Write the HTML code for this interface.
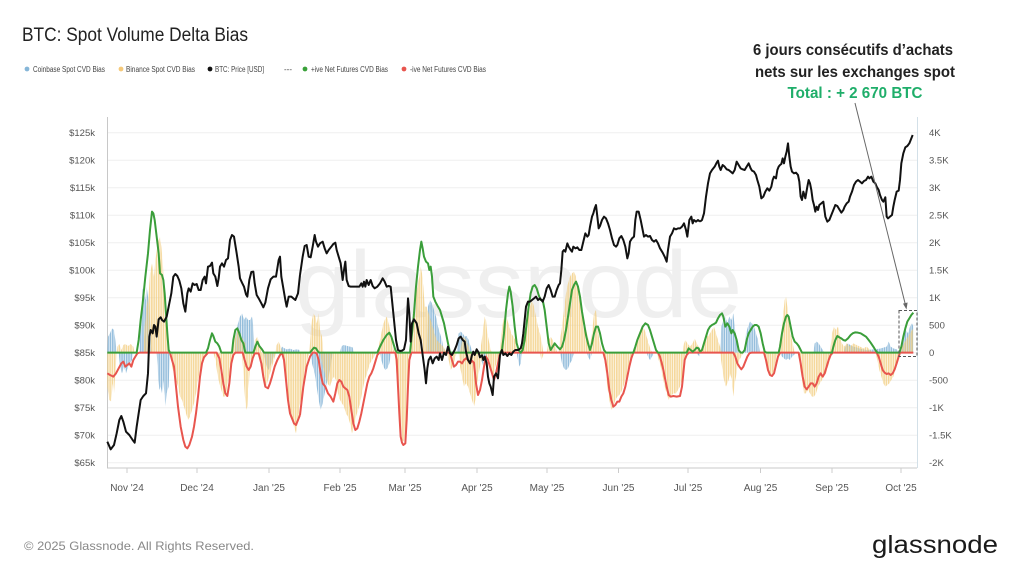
<!DOCTYPE html>
<html><head><meta charset="utf-8"><style>
html,body{margin:0;padding:0;background:#fff;}
svg{display:block;}
text{font-family:"Liberation Sans",sans-serif;}
</style></head><body>
<svg width="1024" height="576" viewBox="0 0 1024 576" xmlns="http://www.w3.org/2000/svg">
<defs>
<pattern id="po" patternUnits="userSpaceOnUse" width="6.96" height="20"><rect x="0" y="0" width="5" height="20" fill="#f2cb7a"/></pattern>
<pattern id="pb" patternUnits="userSpaceOnUse" width="6.96" height="20"><rect x="1" y="0" width="5" height="20" fill="#82b3d6"/></pattern>
</defs>
<rect width="1024" height="576" fill="#fff"/>

<!-- Title -->
<text x="22" y="41" font-size="19" fill="#222" textLength="226" lengthAdjust="spacingAndGlyphs">BTC: Spot Volume Delta Bias</text>

<!-- Legend -->
<g font-size="8" fill="#444">
<circle cx="27" cy="69" r="2.4" fill="#86b6d8"/><text x="33" y="72" textLength="72" lengthAdjust="spacingAndGlyphs">Coinbase Spot CVD Bias</text>
<circle cx="121" cy="69" r="2.4" fill="#f5c97a"/><text x="126" y="72" textLength="69" lengthAdjust="spacingAndGlyphs">Binance Spot CVD Bias</text>
<circle cx="210" cy="69" r="2.4" fill="#111"/><text x="215" y="72" textLength="49" lengthAdjust="spacingAndGlyphs">BTC: Price [USD]</text>
<text x="284" y="72">---</text>
<circle cx="305" cy="69" r="2.4" fill="#3aa13a"/><text x="311" y="72" textLength="77" lengthAdjust="spacingAndGlyphs">+ive Net Futures CVD Bias</text>
<circle cx="404" cy="69" r="2.4" fill="#e8554e"/><text x="410" y="72" textLength="76" lengthAdjust="spacingAndGlyphs">-ive Net Futures CVD Bias</text>
</g>

<!-- Annotation -->
<g font-weight="bold" font-size="16" text-anchor="middle">
<text x="853" y="55" fill="#222" textLength="200" lengthAdjust="spacingAndGlyphs">6 jours consécutifs d’achats</text>
<text x="855" y="77" fill="#222" textLength="200" lengthAdjust="spacingAndGlyphs">nets sur les exchanges spot</text>
<text x="855" y="98" fill="#1fae6a" textLength="135" lengthAdjust="spacingAndGlyphs">Total : + 2 670 BTC</text>
</g>

<!-- Gridlines -->
<g stroke="#efefef" stroke-width="1">
<line x1="107" x2="917" y1="132.7" y2="132.7"/><line x1="107" x2="917" y1="160.2" y2="160.2"/>
<line x1="107" x2="917" y1="187.7" y2="187.7"/><line x1="107" x2="917" y1="215.2" y2="215.2"/>
<line x1="107" x2="917" y1="242.7" y2="242.7"/><line x1="107" x2="917" y1="270.2" y2="270.2"/>
<line x1="107" x2="917" y1="297.7" y2="297.7"/><line x1="107" x2="917" y1="325.2" y2="325.2"/>
<line x1="107" x2="917" y1="352.7" y2="352.7"/><line x1="107" x2="917" y1="380.2" y2="380.2"/>
<line x1="107" x2="917" y1="407.7" y2="407.7"/><line x1="107" x2="917" y1="435.2" y2="435.2"/>
<line x1="107" x2="917" y1="462.7" y2="462.7"/>
</g>

<!-- Watermark -->
<text x="295" y="317" font-size="95" fill="#efefef" textLength="447" lengthAdjust="spacingAndGlyphs">glassnode</text>

<!-- Axes -->
<line x1="107.5" y1="117" x2="107.5" y2="468" stroke="#c8c8c8"/>
<line x1="107" y1="468" x2="917" y2="468" stroke="#c8c8c8"/>
<line x1="917.5" y1="117" x2="917.5" y2="468" stroke="#d3e0e8"/>
<g stroke="#ccc">
<line x1="127" x2="127" y1="468" y2="473"/><line x1="197" x2="197" y1="468" y2="473"/>
<line x1="269" x2="269" y1="468" y2="473"/><line x1="340" x2="340" y1="468" y2="473"/>
<line x1="405" x2="405" y1="468" y2="473"/><line x1="477" x2="477" y1="468" y2="473"/>
<line x1="547" x2="547" y1="468" y2="473"/><line x1="618.5" x2="618.5" y1="468" y2="473"/>
<line x1="688" x2="688" y1="468" y2="473"/><line x1="760.5" x2="760.5" y1="468" y2="473"/>
<line x1="832" x2="832" y1="468" y2="473"/><line x1="901" x2="901" y1="468" y2="473"/>
</g>

<!-- Left axis labels -->
<g font-size="9.5" fill="#555" text-anchor="end">
<text x="95" y="136">$125k</text><text x="95" y="163.5">$120k</text><text x="95" y="191">$115k</text>
<text x="95" y="218.5">$110k</text><text x="95" y="246">$105k</text><text x="95" y="273.5">$100k</text>
<text x="95" y="301">$95k</text><text x="95" y="328.5">$90k</text><text x="95" y="356">$85k</text>
<text x="95" y="383.5">$80k</text><text x="95" y="411">$75k</text><text x="95" y="438.5">$70k</text>
<text x="95" y="466">$65k</text>
</g>
<!-- Right axis labels -->
<g font-size="9.5" fill="#555">
<text x="929" y="136">4K</text><text x="929" y="163.5">3.5K</text><text x="929" y="191">3K</text>
<text x="929" y="218.5">2.5K</text><text x="929" y="246">2K</text><text x="929" y="273.5">1.5K</text>
<text x="929" y="301">1K</text><text x="929" y="328.5">500</text><text x="929" y="356">0</text>
<text x="929" y="383.5">-500</text><text x="929" y="411">-1K</text><text x="929" y="438.5">-1.5K</text>
<text x="929" y="466">-2K</text>
</g>
<!-- X labels -->
<g font-size="10" fill="#555" text-anchor="middle">
<text x="127" y="491">Nov '24</text><text x="197" y="491">Dec '24</text><text x="269" y="491">Jan '25</text>
<text x="340" y="491">Feb '25</text><text x="405" y="491">Mar '25</text><text x="477" y="491">Apr '25</text>
<text x="547" y="491">May '25</text><text x="618.5" y="491">Jun '25</text><text x="688" y="491">Jul '25</text>
<text x="760.5" y="491">Aug '25</text><text x="832" y="491">Sep '25</text><text x="901" y="491">Oct '25</text>
</g>

<!-- Segment 1 -->
<g transform="translate(100,120) scale(0.333333)">
<path fill="url(#pb)" opacity="0.85" d="M22,698 L24,650 30,640 36,625 42,630 46,660 50,698Z M118,698 L120,620 124,560 128,505 132,520 136,540 140,500 144,530 148,560 152,640 156,698Z M404,698 L408,640 414,610 420,590 426,580 432,600 438,590 444,600 450,600 456,590 460,620 464,698Z M540,698 L546,680 552,684 560,688 570,686 580,690 590,688 600,690 600,698Z M56,698 L60,740 66,760 72,740 78,760 84,740 90,730 96,720 100,698Z M170,698 L174,760 178,810 182,800 186,820 190,780 196,860 200,820 206,800 210,698Z M490,698 L494,720 500,740 506,750 512,735 518,720 524,698Z"/>
<path fill="url(#po)" opacity="0.75" d="M50,698 L52,680 58,672 64,690 70,675 76,672 84,678 92,672 100,680 104,698Z M130,698 L134,620 140,560 146,520 150,460 156,430 162,470 166,420 172,380 176,360 180,350 184,380 188,420 192,500 196,560 200,620 206,698Z M396,698 L400,680 406,650 412,630 418,640 424,650 430,660 436,670 440,698Z M460,698 L466,660 472,650 478,670 484,698Z M526,698 L530,675 536,665 542,680 548,698Z M22,698 L22,800 28,840 34,845 38,790 42,820 46,760 50,698Z M212,698 L216,740 222,760 228,780 234,800 240,830 246,840 252,860 258,880 264,900 270,890 276,870 282,850 288,820 294,780 300,750 306,720 312,710 318,698Z M340,698 L346,720 352,760 358,790 364,810 370,830 376,830 382,800 388,760 394,720 400,698Z M426,698 L430,760 434,820 438,870 442,860 446,800 450,740 456,720 462,698Z M476,698 L480,720 486,760 492,790 498,800 504,780 510,760 516,740 522,720 528,698Z M548,698 L552,740 558,800 564,860 570,890 576,900 582,920 588,940 594,900 600,850 600,698Z"/>
<polyline fill="none" stroke="#e8554e" stroke-width="2" vector-effect="non-scaling-stroke" stroke-linejoin="round" points="22,760 30,765 40,770 48,760 56,745 64,730 70,725 76,740 82,735 88,730 94,740 100,720 106,710 112,700 118,698 210,698 216,720 222,740 228,800 234,860 242,920 250,960 256,980 262,985 268,975 276,950 282,920 288,880 294,830 300,770 306,730 312,712 318,705 324,698 350,698 358,715 364,750 370,790 376,820 382,828 388,790 394,730 400,705 406,698 428,698 434,720 440,740 446,750 452,740 458,715 464,700 476,700 484,730 490,770 496,800 504,805 510,790 516,770 524,740 532,720 540,705 546,698 552,720 558,780 564,840 570,880 576,895 582,910 588,915 594,900 600,885"/>
<polyline fill="none" stroke="#3a9e3a" stroke-width="2" vector-effect="non-scaling-stroke" stroke-linejoin="round" points="22,698 110,698 116,660 122,600 128,550 136,470 144,400 150,330 156,275 160,280 164,300 170,350 176,400 180,460 186,465 190,480 194,520 198,580 202,640 206,690 210,698 318,698 324,685 330,660 336,640 340,648 346,665 352,670 358,680 364,698 396,698 400,660 406,630 412,625 418,640 424,660 430,670 436,698 460,698 466,680 472,665 478,678 486,688 492,698 600,698"/>
<polyline fill="none" stroke="#111" stroke-width="2" vector-effect="non-scaling-stroke" stroke-linejoin="round" points="22,965 32,988 42,975 50,940 58,900 64,888 70,905 78,935 88,945 98,960 104,968 110,920 116,880 122,840 130,828 138,820 144,760 148,650 152,630 158,640 162,615 166,620 170,650 176,598 182,592 186,600 192,605 200,590 206,560 214,520 220,470 226,462 232,468 238,482 244,505 250,550 256,575 262,520 266,505 272,515 278,490 284,495 290,492 296,510 302,510 308,480 314,470 318,490 324,440 330,438 336,428 340,460 346,470 352,498 356,475 360,440 366,430 372,440 378,420 384,415 390,360 396,345 402,350 410,400 416,440 420,475 426,488 432,500 438,523 442,530 448,480 454,456 460,455 464,490 470,525 476,535 484,550 490,562 496,548 504,505 512,478 520,470 528,470 536,420 540,410 544,470 550,505 556,540 560,560 566,530 574,530 580,535 586,540 594,520 600,465"/>
</g>

<!-- Segment 2 -->
<g transform="translate(300,120) scale(0.333333)">
<path fill="url(#pb)" opacity="0.85" d="M120,698 L124,680 130,675 136,676 142,678 150,680 158,682 162,698Z M380,698 L384,560 390,540 396,550 402,570 408,590 414,620 420,640 426,660 432,698Z M470,698 L476,640 482,635 488,640 494,650 500,648 506,660 512,680 518,698Z M30,698 L36,730 44,760 50,800 56,840 62,870 68,850 74,820 80,790 86,770 92,740 98,698Z M240,698 L244,720 250,740 256,750 262,745 268,730 274,698Z M540,698 L544,720 550,740 556,730 562,698Z"/>
<path fill="url(#po)" opacity="0.75" d="M0,698 L0,850 6,820 12,780 18,740 24,710 30,698Z M28,698 L32,640 36,600 40,580 46,590 50,610 56,580 60,630 66,650 70,698Z M232,698 L240,660 248,620 254,600 260,590 266,610 272,640 278,680 284,698Z M330,698 L336,620 342,560 348,520 354,490 358,470 362,440 366,460 370,500 374,560 380,560 386,580 392,600 398,620 404,640 410,660 420,670 430,680 440,698Z M480,698 L486,660 492,650 498,660 506,680 512,698Z M540,698 L548,640 554,590 558,600 562,640 566,660 572,690 576,698Z M60,698 L66,730 74,760 82,790 90,800 96,780 102,770 108,780 114,820 120,840 126,850 132,860 138,880 144,890 150,910 156,940 162,920 168,890 174,870 180,850 186,820 192,790 198,770 204,750 210,730 216,720 222,710 228,698Z M284,698 L288,740 292,800 296,860 300,930 306,960 312,965 318,940 322,860 326,780 330,720 334,698Z M440,698 L446,720 452,750 458,740 464,720 470,698Z M476,698 L480,740 486,770 492,800 498,790 504,800 510,820 516,840 522,860 526,840 530,800 536,760 542,730 548,710 554,698Z M556,698 L562,720 568,740 574,760 580,770 586,740 592,720 598,698Z"/>
<polyline fill="none" stroke="#e8554e" stroke-width="2" vector-effect="non-scaling-stroke" stroke-linejoin="round" points="0,885 10,800 20,740 30,710 38,698 44,698 50,700 56,720 62,760 68,790 76,800 84,820 92,830 100,845 106,820 112,790 118,780 124,785 130,800 136,805 142,810 148,830 154,870 160,910 166,930 172,925 178,905 184,880 190,850 196,820 202,790 208,770 214,760 220,745 226,725 232,705 238,698 286,698 290,720 294,800 298,880 302,950 306,968 310,975 316,970 320,900 324,800 328,720 334,698 450,698 456,720 462,740 468,735 474,725 480,725 486,730 492,720 498,715 504,720 510,730 516,722 522,728 528,790 534,825 540,810 546,780 552,740 558,710 564,720 570,740 576,760 582,780 588,760 594,730 600,700"/>
<polyline fill="none" stroke="#3a9e3a" stroke-width="2" vector-effect="non-scaling-stroke" stroke-linejoin="round" points="0,698 30,698 36,690 42,683 48,685 54,695 58,698 232,698 240,680 250,660 260,645 268,638 274,650 280,670 286,690 292,698 330,698 336,640 342,580 348,500 354,440 360,390 364,365 368,385 372,410 378,425 384,430 388,450 392,440 396,470 400,530 406,545 414,560 420,570 426,590 432,610 438,640 444,670 450,698 600,698"/>
<polyline fill="none" stroke="#111" stroke-width="2" vector-effect="non-scaling-stroke" stroke-linejoin="round" points="0,465 8,410 14,378 20,375 26,410 32,412 38,380 44,345 48,365 54,380 60,370 68,365 74,385 80,400 86,390 94,380 100,372 106,368 110,390 116,410 122,430 128,480 132,450 136,425 140,480 146,498 152,500 160,500 168,500 178,500 184,490 188,500 192,485 196,500 200,480 206,495 212,480 218,498 224,505 232,500 240,490 248,475 254,485 260,500 266,498 272,500 276,540 280,580 284,620 288,660 294,690 300,693 306,692 312,688 318,660 324,535 328,580 332,665 336,610 342,598 350,610 356,640 362,660 366,690 370,720 374,750 378,790 382,745 386,720 392,710 398,730 404,715 410,710 416,720 420,700 426,720 432,698 438,705 444,680 450,700 456,705 464,690 470,675 476,655 482,650 488,660 494,665 498,695 504,720 510,730 516,705 520,695 524,705 530,688 536,698 540,712 546,706 550,720 554,710 560,730 564,770 568,790 572,800 578,825 582,770 588,760 594,775 600,705"/>
</g>

<!-- Segment 3 -->
<g transform="translate(500,120) scale(0.333333)">
<path fill="url(#pb)" opacity="0.85" d="M50,698 L54,720 58,740 62,730 66,698Z M180,698 L186,730 192,745 198,750 204,745 210,730 216,720 222,698Z M260,698 L264,710 270,720 276,698Z M440,698 L444,710 450,720 456,710 462,698Z M590,698 L594,705 600,710 600,698Z"/>
<path fill="url(#po)" opacity="0.75" d="M0,698 L4,640 10,600 16,580 22,600 28,620 34,640 40,650 46,660 52,698Z M60,698 L66,670 72,640 78,610 84,580 90,560 96,540 102,560 108,590 114,620 120,640 126,670 130,698Z M140,698 L146,660 152,650 158,660 166,680 172,698Z M176,698 L180,660 186,620 192,570 198,520 204,490 210,470 216,460 222,455 228,470 234,500 240,530 246,560 252,600 258,630 264,650 270,680 276,640 282,580 288,570 292,620 298,660 304,690 310,698Z M400,698 L404,680 410,660 416,640 422,630 428,620 434,630 440,650 446,670 452,690 458,698Z M548,698 L552,670 556,660 562,670 570,680 578,670 584,655 590,670 596,680 600,690 600,698Z M310,698 L316,740 322,800 328,840 334,870 340,860 346,840 352,830 358,825 364,815 370,800 376,780 382,760 388,730 394,710 400,698Z M470,698 L476,720 482,740 488,770 494,800 500,820 506,840 512,830 520,820 528,820 534,810 540,800 546,780 552,740 556,698Z M120,698 L124,720 128,710 132,698Z"/>
<polyline fill="none" stroke="#e8554e" stroke-width="2" vector-effect="non-scaling-stroke" stroke-linejoin="round" points="0,698 310,698 316,720 322,760 328,810 334,840 340,860 346,855 352,845 358,845 364,830 370,820 376,800 382,770 388,740 394,715 400,698 474,698 480,710 488,740 494,770 500,800 506,825 512,830 520,828 530,830 540,828 546,800 550,760 554,720 560,705 566,698 600,698"/>
<polyline fill="none" stroke="#3a9e3a" stroke-width="2" vector-effect="non-scaling-stroke" stroke-linejoin="round" points="0,698 6,690 12,640 18,570 24,520 28,500 32,515 38,560 44,620 50,670 56,690 62,698 68,690 74,660 80,610 86,560 92,520 98,500 104,495 110,505 116,525 122,540 128,540 134,570 140,620 146,670 152,690 158,680 164,670 172,680 180,688 186,680 192,660 198,630 204,590 210,550 216,510 222,495 228,485 234,500 240,530 246,575 252,610 258,645 264,670 270,690 276,670 282,640 288,620 294,620 300,640 306,670 312,690 318,698 400,698 406,680 412,660 420,640 428,620 436,610 444,615 450,630 456,650 462,670 468,690 474,698 560,698 566,685 572,690 578,695 584,690 590,683 596,685 600,695"/>
<polyline fill="none" stroke="#111" stroke-width="2" vector-effect="non-scaling-stroke" stroke-linejoin="round" points="0,705 6,690 10,705 16,700 22,708 28,700 34,705 40,695 46,690 54,690 62,685 66,670 70,640 74,600 78,560 84,545 90,545 96,540 102,535 108,530 114,540 120,535 128,545 134,530 140,505 146,495 152,510 158,530 164,530 170,510 176,495 180,490 184,450 188,395 192,390 196,395 202,370 206,380 212,390 216,395 220,380 226,385 232,382 238,390 244,390 250,365 256,340 262,350 266,345 270,320 276,290 280,280 284,265 288,255 292,290 296,325 300,318 306,300 312,290 318,295 324,310 330,330 336,355 342,375 348,380 352,375 358,355 364,348 370,360 376,380 382,415 386,400 390,365 396,355 402,350 406,300 410,275 416,275 422,300 428,330 432,350 438,345 444,350 450,348 456,360 462,365 468,360 474,370 480,385 488,398 494,410 500,425 504,390 510,350 516,340 522,325 528,328 534,325 540,325 546,320 552,310 558,330 562,350 568,300 574,290 578,310 582,300 588,305 594,300 600,305"/>
</g>

<!-- Segment 4 -->
<g transform="translate(700,120) scale(0.333333)">
<path fill="url(#pb)" opacity="0.85" d="M60,698 L64,620 70,600 76,590 82,610 88,590 94,600 100,580 104,620 110,660 116,698Z M134,698 L138,640 144,620 150,605 156,610 162,620 168,640 174,660 180,698Z M340,698 L344,670 350,665 356,670 362,680 368,690 374,698Z M430,698 L436,680 444,670 452,676 460,680 470,682 480,686 500,690 520,688 540,686 560,680 566,665 572,680 580,685 590,688 598,698Z M600,698 L606,660 612,640 618,630 624,640 630,620 636,610 640,620 640,698Z M240,698 L246,710 252,715 258,720 264,715 270,720 276,710 282,705 288,698Z"/>
<path fill="url(#po)" opacity="0.75" d="M0,698 L6,680 12,660 18,640 24,650 30,640 36,630 42,620 48,640 54,660 60,680 66,698Z M234,698 L240,660 246,620 250,580 254,540 258,530 262,560 266,600 272,640 278,670 284,698Z M390,698 L396,640 402,620 408,630 414,620 420,650 426,670 432,680 440,670 450,680 460,670 470,675 480,680 490,685 500,680 510,690 520,698Z M600,698 L606,680 612,670 618,660 624,650 630,640 636,630 640,625 640,698Z M60,698 L66,740 72,780 78,800 82,790 86,780 90,760 96,780 100,830 104,790 108,770 112,740 118,720 124,710 130,698Z M196,698 L200,730 206,760 212,770 218,760 224,740 230,710 236,698Z M296,698 L300,740 306,780 312,820 318,820 324,810 330,820 336,830 342,830 348,820 354,800 360,790 366,780 372,770 378,760 384,740 390,720 396,698Z M526,698 L532,720 538,750 544,770 550,790 556,800 562,795 568,790 574,780 580,770 586,750 592,730 598,698Z"/>
<polyline fill="none" stroke="#e8554e" stroke-width="2" vector-effect="non-scaling-stroke" stroke-linejoin="round" points="0,698 100,698 106,710 112,730 118,740 124,748 130,740 136,725 142,710 148,700 154,698 192,698 198,720 204,750 210,765 216,768 222,760 228,735 234,710 240,698 296,698 302,730 308,770 314,800 320,808 326,800 332,790 338,790 344,800 350,790 356,770 362,760 368,770 374,760 380,740 386,720 392,705 398,698 530,698 536,710 542,730 548,750 554,758 560,762 566,760 572,765 578,760 584,748 590,730 596,710 600,698 640,698"/>
<polyline fill="none" stroke="#3a9e3a" stroke-width="2" vector-effect="non-scaling-stroke" stroke-linejoin="round" points="0,695 6,690 12,670 18,650 24,630 30,620 36,615 42,612 48,608 54,595 60,585 66,580 70,590 76,620 82,610 88,620 94,640 98,630 104,640 110,660 116,690 122,698 128,698 134,690 140,660 146,640 152,630 158,620 164,615 170,615 176,620 182,640 188,670 194,695 200,698 236,698 240,680 246,640 252,610 258,590 262,585 266,590 272,620 278,650 284,665 290,670 296,678 302,690 306,698 396,698 400,680 406,660 412,648 418,652 424,655 430,660 436,662 444,655 452,645 458,640 466,637 474,638 482,640 490,645 498,650 506,660 512,668 520,680 526,690 532,698 598,698 604,680 610,650 616,625 622,605 628,595 634,585 640,578"/>
<polyline fill="none" stroke="#111" stroke-width="2" vector-effect="non-scaling-stroke" stroke-linejoin="round" points="0,305 6,300 12,280 18,230 24,190 30,160 36,150 44,140 50,128 54,122 58,140 62,150 68,135 74,140 80,148 86,150 92,155 98,160 104,150 110,125 116,135 122,145 128,148 134,150 140,140 146,130 152,145 156,152 162,155 168,165 172,180 178,200 184,235 190,230 196,215 202,205 208,212 214,200 218,180 222,170 228,175 232,150 236,140 240,135 244,132 248,115 252,130 256,110 260,95 264,70 268,110 272,140 276,155 282,160 288,158 294,165 298,185 302,230 306,240 310,215 316,235 322,200 326,180 330,190 334,210 338,240 342,255 346,275 350,260 354,270 358,255 364,250 370,245 376,290 382,305 388,300 394,285 400,270 406,255 412,258 418,268 424,278 430,270 434,260 440,250 446,245 450,230 456,215 462,195 468,185 474,180 480,185 486,190 492,183 498,180 504,170 508,175 514,170 520,185 526,190 530,200 536,210 540,225 546,240 550,245 556,232 560,290 564,295 570,290 576,285 580,260 584,240 590,215 596,212 600,180 604,130 610,100 616,82 622,78 628,70 634,55 638,45"/>
</g>

<!-- Dashed box and arrow -->
<rect x="899" y="310.5" width="18" height="46" fill="none" stroke="#555" stroke-width="1" stroke-dasharray="3,2"/>
<line x1="855" y1="103" x2="905.5" y2="305" stroke="#666" stroke-width="1"/>
<polygon points="906.5,309.5 907.6,302.5 903,303.6" fill="#666"/>

<!-- Footer -->
<text x="24" y="550" font-size="12" fill="#888" textLength="230" lengthAdjust="spacingAndGlyphs">© 2025 Glassnode. All Rights Reserved.</text>
<text x="872" y="553" font-size="25" fill="#1a1a1a" textLength="126" lengthAdjust="spacingAndGlyphs">glassnode</text>
</svg>
</body></html>
